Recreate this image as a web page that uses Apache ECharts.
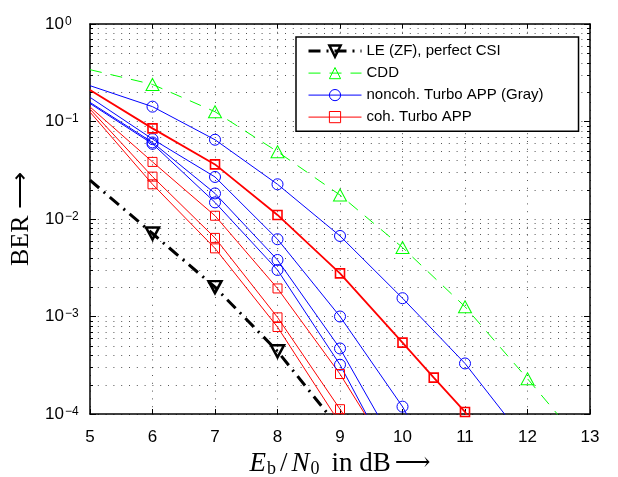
<!DOCTYPE html>
<html>
<head>
<meta charset="utf-8">
<script src="https://cdn.jsdelivr.net/npm/echarts@6/dist/echarts.min.js"></script>
<style>
  html, body { margin: 0; padding: 0; background: #fff; }
  #chart { width: 618px; height: 477px; }
</style>
</head>
<body>
<div id="chart"></div>
<script>
// x axis (Eb/N0 in dB) and log y axis (BER)
const xMin = 5;
const xMax = 13;
const yMin = 1e-4;
const yMax = 1;
const decades = [1e-4, 1e-3, 1e-2, 1e-1];
const minorSteps = [2, 3, 4, 5, 6, 7, 8, 9];

const legendNames = ["LE (ZF), perfect CSI", "CDD", "noncoh. Turbo APP (Gray)", "coh. Turbo APP"];

// LE (ZF), perfect CSI
const leX = [5, 6, 7, 8, 9];
const leBer = [2.5e-2, 7.1e-3, 2.0e-3, 4.4e-4, 7e-5];

// CDD
const cddX = [5, 6, 7, 8, 9, 10, 11, 12, 13];
const cddBer = [0.34, 0.24, 0.126, 0.049, 0.0176, 5.1e-3, 1.26e-3, 2.3e-4, 4e-5];

// noncoherent Turbo APP (Gray), four curves
const nc1X = [5, 6, 7, 8, 9, 10, 11, 12];
const nc1Ber = [0.233, 0.142, 0.065, 0.0227, 6.7e-3, 1.54e-3, 3.3e-4, 5e-5];
const nc2X = [5, 6, 7, 8, 9, 10, 11];
const nc2Ber = [0.177, 0.066, 0.027, 6.2e-3, 1.0e-3, 1.19e-4, 8e-6];
const nc3X = [5, 6, 7, 8, 9, 10];
const nc3Ber = [0.157, 0.061, 0.0183, 3.8e-3, 4.7e-4, 3.5e-5];
const nc4X = [5, 6, 7, 8, 9, 10];
const nc4Ber = [0.153, 0.059, 0.0148, 3.0e-3, 3.2e-4, 2e-5];

// coherent Turbo APP, four curves
const co1X = [5, 6, 7, 8, 9, 10, 10.5, 11, 11.5];
const co1Ber = [0.21, 0.085, 0.0363, 0.011, 2.77e-3, 5.4e-4, 2.36e-4, 1.05e-4, 3e-5];
const co2X = [5, 6, 7, 8, 9, 10];
const co2Ber = [0.141, 0.0385, 0.0108, 1.94e-3, 2.57e-4, 2.4e-5];
const co3X = [5, 6, 7, 8, 9, 10];
const co3Ber = [0.134, 0.0272, 6.4e-3, 9.8e-4, 1.12e-4, 1.3e-5];
const co4X = [5, 6, 7, 8, 9];
const co4Ber = [0.125, 0.0227, 5.0e-3, 7.8e-4, 8e-5];

const BLACK = "#000000";
const GREEN = "#00ff00";
const BLUE = "#0000ff";
const RED = "#ff0000";
const LE_DASH = [12, 6, 2, 6];
const CDD_DASH = [12, 9];
const GRID_DOTS = [1, 6.8];
const GRID_COLOR = "#555";
const SANS = "Liberation Sans, Arial, sans-serif";
const SERIF = "Liberation Serif, Times New Roman, serif";

const minorTicks = [];
decades.forEach((d) => minorSteps.forEach((k) => minorTicks.push(Number((k * d).toPrecision(3)))));

function curve(name, xs, ys, st) {
  return {
    type: "line",
    name,
    data: xs.map((x, i) => {
      const item = { value: [x, ys[i]] };
      if (x === xMin || x === xMax || ys[i] < yMin) {
        item.symbol = "none";
      }
      return item;
    }),
    symbol: st.symbol,
    symbolSize: st.size,
    symbolRotate: st.rotate || 0,
    showAllSymbol: true,
    lineStyle: { color: st.color, width: st.width, type: st.dash || "solid" },
    itemStyle: { color: "none", borderColor: st.color, borderWidth: st.markerWidth || 1 },
    emphasis: { disabled: true },
    z: 3,
  };
}

const leStyle = { color: BLACK, width: 3, dash: LE_DASH, symbol: "triangle", size: [13, 12], rotate: 180, markerWidth: 2.5 };
const cddStyle = { color: GREEN, width: 1, dash: CDD_DASH, symbol: "triangle", size: [13, 12] };
const ncStyle = { color: BLUE, width: 1, symbol: "circle", size: 11 };
const coStyle = { color: RED, width: 1, symbol: "rect", size: 9 };
const co1Style = { color: RED, width: 1.8, symbol: "rect", size: 9, markerWidth: 1.6 };

function legendItem(name, color, width, dash, markerWidth) {
  return {
    name,
    itemStyle: { color: "none", borderColor: color, borderWidth: markerWidth },
    lineStyle: { color, width, type: dash },
  };
}

const chart = echarts.init(document.getElementById("chart"), null, { renderer: "canvas" });

const tickLabel = {
  b: { fontFamily: SANS, fontSize: 17, lineHeight: 17, color: "#000", padding: [7, 0, 0, 0], verticalAlign: "bottom" },
  s: { fontFamily: SANS, fontSize: 12, lineHeight: 12, color: "#000", padding: [0, 0, 0, 1], verticalAlign: "top" },
};

const titleMain = { fontFamily: SERIF, fontSize: 27, lineHeight: 27, color: "#000", verticalAlign: "top" };

chart.setOption({
  animation: false,
  backgroundColor: "#fff",
  grid: { left: 90, right: 28, top: 24, bottom: 63, outerBoundsMode: "none" },
  legend: {
    left: 296,
    top: 37,
    orient: "vertical",
    padding: [6, 35, 6, 11],
    itemWidth: 53,
    itemHeight: 14,
    itemGap: 5.8,
    backgroundColor: "#fff",
    borderColor: "#000",
    borderWidth: 1.5,
    borderRadius: 0,
    selectedMode: false,
    textStyle: { fontFamily: SANS, fontSize: 15, color: "#000" },
    data: [
      legendItem(legendNames[0], BLACK, 3, LE_DASH, 2.5),
      legendItem(legendNames[1], GREEN, 1, CDD_DASH, 1),
      legendItem(legendNames[2], BLUE, 1, "solid", 1),
      legendItem(legendNames[3], RED, 1, "solid", 1),
    ],
  },
  xAxis: [
    {
      type: "value",
      min: xMin,
      max: xMax,
      interval: 1,
      position: "bottom",
      axisLine: { lineStyle: { color: "#000", width: 1.5 } },
      axisTick: { inside: true, length: 5, lineStyle: { color: "#000" } },
      axisLabel: { fontFamily: SANS, fontSize: 17, color: "#000", margin: 15 },
      splitLine: { show: true, lineStyle: { color: GRID_COLOR, width: 1, type: GRID_DOTS } },
      name: "{i|E}{sb|b}{sl|/}{i|N}{sb|0}{r|in dB}{ar|⟶}",
      nameLocation: "middle",
      nameGap: 24,
      nameTextStyle: {
        rich: {
          i: Object.assign({}, titleMain, { fontStyle: "italic" }),
          sl: Object.assign({}, titleMain, { padding: [0, 4, 0, 4] }),
          r: Object.assign({}, titleMain, { padding: [0, 4, 0, 12] }),
          ar: Object.assign({}, titleMain, { fontFamily: "DejaVu Serif, DejaVu Sans", fontSize: 25 }),
          sb: { fontFamily: SERIF, fontSize: 18, lineHeight: 18, color: "#000", padding: [9, 0, 0, 1], verticalAlign: "bottom" },
        },
      },
    },
    {
      type: "value",
      min: xMin,
      max: xMax,
      interval: 1,
      position: "top",
      axisLine: { lineStyle: { color: "#000", width: 1.5 } },
      axisTick: { inside: true, length: 5, lineStyle: { color: "#000" } },
      axisLabel: { show: false },
      splitLine: { show: false },
    },
  ],
  yAxis: [
    {
      type: "log",
      logBase: 10,
      min: yMin,
      max: yMax,
      splitNumber: 4,
      position: "left",
      axisLine: { show: true, lineStyle: { color: "#000", width: 1.5 } },
      axisTick: { show: true, inside: true, length: 6, lineStyle: { color: "#000" } },
      axisLabel: {
        align: "left",
        margin: 45,
        formatter(v) {
          const e = Math.round(Math.log10(v));
          return `{b|10}{s|${e === 0 ? "0" : "\u2212" + -e}}`;
        },
        rich: tickLabel,
      },
      splitLine: { show: true, lineStyle: { color: GRID_COLOR, width: 1, type: GRID_DOTS } },
      name: "BER ⟶",
      nameLocation: "middle",
      nameRotate: 90,
      nameGap: 53,
      nameTextStyle: { fontFamily: SERIF, fontSize: 26, lineHeight: 26, color: "#000" },
    },
    {
      type: "log",
      logBase: 10,
      min: yMin,
      max: yMax,
      splitNumber: 4,
      position: "right",
      axisLine: { show: true, lineStyle: { color: "#000", width: 1.5 } },
      axisTick: { show: true, inside: true, length: 6, lineStyle: { color: "#000" } },
      axisLabel: { show: false },
      splitLine: { show: false },
    },
  ],
  series: [
    {
      // minor log grid lines and ticks on both y axes
      type: "custom",
      name: "minor",
      silent: true,
      z: 1,
      data: minorTicks.map((v) => [xMin, v]),
      renderItem(params, api) {
        const cs = params.coordSys;
        const y = Math.round(api.coord([xMin, api.value(1)])[1]) + 0.5;
        const x0 = cs.x;
        const x1 = cs.x + cs.width;
        return {
          type: "group",
          children: [
            { type: "line", shape: { x1: x0, y1: y, x2: x1, y2: y }, style: { stroke: GRID_COLOR, lineWidth: 1, lineDash: GRID_DOTS } },
            { type: "line", shape: { x1: x0, y1: y, x2: x0 + 3, y2: y }, style: { stroke: "#000", lineWidth: 1 } },
            { type: "line", shape: { x1: x1 - 3, y1: y, x2: x1, y2: y }, style: { stroke: "#000", lineWidth: 1 } },
          ],
        };
      },
    },
    curve(legendNames[1], cddX, cddBer, cddStyle),
    curve(legendNames[2], nc1X, nc1Ber, ncStyle),
    curve(legendNames[2], nc2X, nc2Ber, ncStyle),
    curve(legendNames[2], nc3X, nc3Ber, ncStyle),
    curve(legendNames[2], nc4X, nc4Ber, ncStyle),
    curve(legendNames[3], co2X, co2Ber, coStyle),
    curve(legendNames[3], co3X, co3Ber, coStyle),
    curve(legendNames[3], co4X, co4Ber, coStyle),
    curve(legendNames[3], co1X, co1Ber, co1Style),
    curve(legendNames[0], leX, leBer, leStyle),
  ],
});
</script>
</body>
</html>
